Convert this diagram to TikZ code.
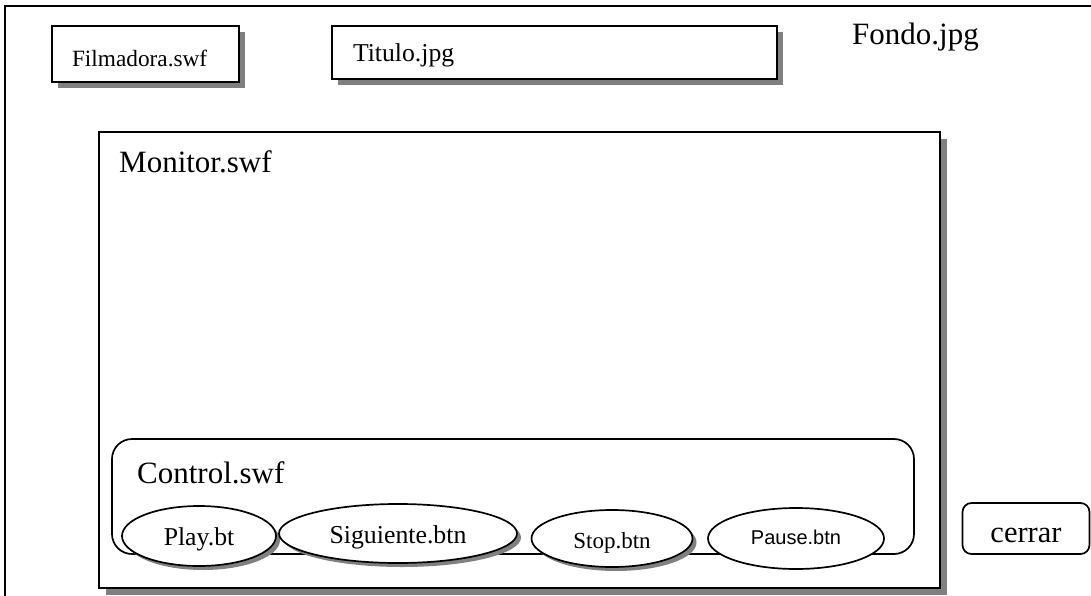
\documentclass[tikz,border=0pt]{standalone}
\usepackage{fontspec}
\setmainfont{Liberation Serif}
\newfontfamily\arialfont{Liberation Sans}
\usetikzlibrary{shapes.geometric,shadows}
\definecolor{shadowgray}{HTML}{808080}
\newcommand{\fsz}[1]{\fontsize{#1}{#1}\selectfont}
\tikzset{
  frameline/.style={line width=2pt},
  panel/.style={draw, line width=2pt, fill=white, rectangle, inner sep=0pt},
  roundpanel/.style={panel, line width=1.7pt, rounded corners=#1},
  boxshadow/.style={general shadow={fill=shadowgray, shadow xshift=#1, shadow yshift=-#1}},
  boxshadow/.default=6pt,
  button/.style={draw, ellipse, line width=1.7pt, fill=white, inner sep=0pt, text depth=0pt},
  btnshadow/.style={general shadow={fill=shadowgray, shadow xshift=4pt, shadow yshift=-4pt}},
  caption/.style={anchor=base west, inner sep=0pt, font=\fsz{31}},
}
\begin{document}
\begin{tikzpicture}[x=1pt,y=-1pt]
\useasboundingbox (0,0) rectangle (1091,596);
% background frame (Fondo.jpg), running past the page edges
\begin{scope}
  \clip (0,0) rectangle (1091,596);
  \draw[frameline] (5,6) rectangle (1120,620);
\end{scope}
\node[caption] (fondo) at (852,45) {Fondo.jpg};

% top row
\node[panel, boxshadow, minimum width=187pt, minimum height=56pt,
      text width=147pt, inner xsep=20pt, text height=26pt, text depth=0pt,
      font=\fsz{23.3}] (filmadora) at (145.5,54) {Filmadora.swf};
\node[panel, boxshadow, minimum width=445pt, minimum height=53pt,
      text width=403pt, inner xsep=21pt, text height=19pt, text depth=0pt,
      font=\fsz{25.7}] (titulo) at (554.5,52.5) {Titulo.jpg};

% monitor window
\node[panel, boxshadow=7pt, minimum width=841pt, minimum height=456pt] (monitor) at (519.5,360) {};
\node[caption] (monitorlbl) at (119,173) {Monitor.swf};

% control bar
\node[roundpanel=20pt, minimum width=802pt, minimum height=115pt] (control) at (513,496.5) {};
\node[caption] (controllbl) at (137,483) {Control.swf};

% buttons
\node[button, btnshadow, minimum width=154pt, minimum height=60pt,
      text height=18pt, font=\fsz{25.7}] (play) at (199,536) {Play.bt};
\node[button, btnshadow, minimum width=238pt, minimum height=59pt,
      text height=19pt, font=\fsz{25.8}] (siguiente) at (398,533.5) {Siguiente.btn};
\node[button, btnshadow, minimum width=161pt, minimum height=57pt,
      text height=19pt, font=\fsz{23}] (stop) at (612,538.5) {Stop.btn};
\node[button, minimum width=176pt, minimum height=61pt,
      text height=11pt, font=\arialfont\fsz{20}] (pause) at (796,538.5) {Pause.btn};

% close button
\node[roundpanel=9pt, minimum width=127pt, minimum height=51pt,
      text height=27pt, text depth=0pt, font=\fsz{30.5}] (cerrar) at (1026,528.5) {cerrar};
\end{tikzpicture}
\end{document}
